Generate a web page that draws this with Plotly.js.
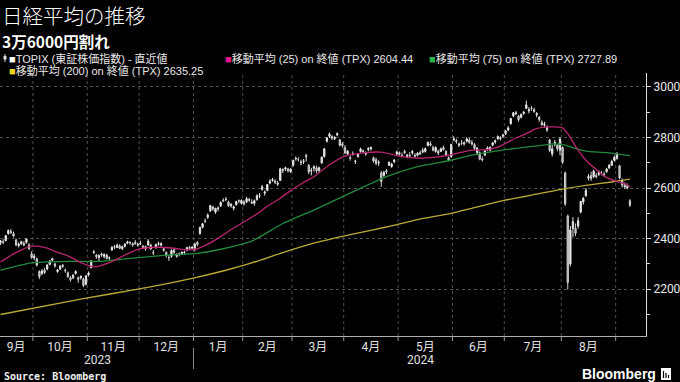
<!DOCTYPE html>
<html><head><meta charset="utf-8">
<script src="https://cdn.plot.ly/plotly-3.0.1.min.js"></script>
<style>html,body{margin:0;padding:0;background:#000;}#chart{width:680px;height:382px;}</style>
</head><body><div id="chart"></div>
<script>
// ---------- data ----------
const dates = [
'2023-09-12','2023-09-13','2023-09-14','2023-09-15','2023-09-19','2023-09-20','2023-09-21','2023-09-22','2023-09-25','2023-09-26','2023-09-27','2023-09-28','2023-09-29',
'2023-10-02','2023-10-03','2023-10-04','2023-10-05','2023-10-06','2023-10-10','2023-10-11','2023-10-12','2023-10-13','2023-10-16','2023-10-17','2023-10-18','2023-10-19','2023-10-20','2023-10-23','2023-10-24','2023-10-25','2023-10-26','2023-10-27','2023-10-30','2023-10-31',
'2023-11-01','2023-11-02','2023-11-06','2023-11-07','2023-11-08','2023-11-09','2023-11-10','2023-11-13','2023-11-14','2023-11-15','2023-11-16','2023-11-17','2023-11-20','2023-11-21','2023-11-22','2023-11-24','2023-11-27','2023-11-28','2023-11-29','2023-11-30',
'2023-12-01','2023-12-04','2023-12-05','2023-12-06','2023-12-07','2023-12-08','2023-12-11','2023-12-12','2023-12-13','2023-12-14','2023-12-15','2023-12-18','2023-12-19','2023-12-20','2023-12-21','2023-12-22','2023-12-25','2023-12-26','2023-12-27','2023-12-28','2023-12-29',
'2024-01-04','2024-01-05','2024-01-09','2024-01-10','2024-01-11','2024-01-12','2024-01-15','2024-01-16','2024-01-17','2024-01-18','2024-01-19','2024-01-22','2024-01-23','2024-01-24','2024-01-25','2024-01-26','2024-01-29','2024-01-30','2024-01-31',
'2024-02-01','2024-02-02','2024-02-05','2024-02-06','2024-02-07','2024-02-08','2024-02-09','2024-02-13','2024-02-14','2024-02-15','2024-02-16','2024-02-19','2024-02-20','2024-02-21','2024-02-22','2024-02-26','2024-02-27','2024-02-28','2024-02-29',
'2024-03-01','2024-03-04','2024-03-05','2024-03-06','2024-03-07','2024-03-08','2024-03-11','2024-03-12','2024-03-13','2024-03-14','2024-03-15','2024-03-18','2024-03-19','2024-03-21','2024-03-22','2024-03-25','2024-03-26','2024-03-27','2024-03-28','2024-03-29',
'2024-04-01','2024-04-02','2024-04-03','2024-04-04','2024-04-05','2024-04-08','2024-04-09','2024-04-10','2024-04-11','2024-04-12','2024-04-15','2024-04-16','2024-04-17','2024-04-18','2024-04-19','2024-04-22','2024-04-23','2024-04-24','2024-04-25','2024-04-26','2024-04-30',
'2024-05-01','2024-05-02','2024-05-07','2024-05-08','2024-05-09','2024-05-10','2024-05-13','2024-05-14','2024-05-15','2024-05-16','2024-05-17','2024-05-20','2024-05-21','2024-05-22','2024-05-23','2024-05-24','2024-05-27','2024-05-28','2024-05-29','2024-05-30','2024-05-31',
'2024-06-03','2024-06-04','2024-06-05','2024-06-06','2024-06-07','2024-06-10','2024-06-11','2024-06-12','2024-06-13','2024-06-14','2024-06-17','2024-06-18','2024-06-19','2024-06-20','2024-06-21','2024-06-24','2024-06-25','2024-06-26','2024-06-27','2024-06-28',
'2024-07-01','2024-07-02','2024-07-03','2024-07-04','2024-07-05','2024-07-08','2024-07-09','2024-07-10','2024-07-11','2024-07-12','2024-07-16','2024-07-17','2024-07-18','2024-07-19','2024-07-22','2024-07-23','2024-07-24','2024-07-25','2024-07-26','2024-07-29','2024-07-30','2024-07-31',
'2024-08-01','2024-08-02','2024-08-05','2024-08-06','2024-08-07','2024-08-08','2024-08-09','2024-08-13','2024-08-14','2024-08-15','2024-08-16','2024-08-19','2024-08-20','2024-08-21','2024-08-22','2024-08-23','2024-08-26','2024-08-27','2024-08-28','2024-08-29','2024-08-30',
'2024-09-02','2024-09-03','2024-09-04','2024-09-05','2024-09-06','2024-09-09'
];
const openPx = [
2385,2388,2392,2420,2428,2420,2395,2372,2380,2382,2385,2375,2340,
2325,2320,2270,2262,2275,2280,2298,2315,2300,2270,2280,2295,2275,2265,2245,2245,2262,2245,2245,2240,2220,
2258,2285,2345,2335,2325,2335,2330,2335,2325,2355,2368,2365,2372,2360,2370,2382,2385,2380,2385,2378,
2380,2370,2360,2375,2375,2345,2365,2378,2375,2360,2345,2325,2330,2355,2330,2340,2340,2345,2355,2365,2362,
2360,2385,2420,2445,2470,2485,2510,2525,2505,2522,2530,2552,2555,2545,2530,2520,2535,2550,2540,
2545,2545,2555,2545,2540,2555,2570,2595,2580,2590,2620,2630,2628,2620,2630,2670,2675,2675,2665,
2690,2715,2712,2700,2705,2725,2690,2668,2678,2680,2670,2700,2725,2785,2805,2805,2795,2810,2790,2775,
2760,2735,2720,2735,2705,2725,2745,2745,2735,2752,2755,2720,2712,2700,2660,2650,2668,2690,2685,2705,2735,
2740,2730,2745,2725,2730,2740,2730,2730,2740,2750,2745,2768,2775,2760,2745,2745,2745,2760,2745,2720,2725,
2790,2788,2770,2778,2780,2785,2790,2780,2772,2740,2740,2715,2730,2752,2750,2770,2782,2795,2800,2805,
2815,2830,2855,2885,2895,2885,2880,2895,2915,2905,2915,2910,2890,2880,2860,2850,2840,2790,2735,2775,2770,2750,
2760,2660,2490,2300,2440,2440,2450,2505,2545,2570,2640,2650,2645,2650,2655,2660,2655,2665,2680,2690,2710,
2718,2688,2630,2612,2608,2550
];
const highPx = [
2395,2398,2415,2436,2438,2428,2400,2385,2392,2390,2402,2382,2350,
2340,2325,2275,2280,2285,2300,2315,2325,2305,2280,2295,2300,2282,2270,2252,2260,2275,2250,2255,2245,2255,
2270,2315,2355,2340,2338,2345,2342,2340,2330,2370,2375,2380,2378,2372,2382,2392,2390,2385,2395,2385,
2392,2375,2372,2398,2380,2355,2380,2388,2385,2365,2350,2335,2358,2362,2342,2345,2350,2352,2368,2372,2370,
2385,2390,2448,2462,2480,2500,2532,2530,2522,2528,2548,2560,2565,2550,2540,2530,2550,2555,2555,
2552,2565,2562,2556,2555,2575,2580,2612,2590,2615,2635,2640,2635,2628,2680,2678,2685,2680,2678,
2712,2725,2722,2712,2715,2735,2695,2680,2690,2688,2685,2725,2758,2802,2820,2808,2805,2820,2795,2782,
2770,2750,2728,2745,2712,2738,2760,2752,2745,2762,2765,2725,2720,2710,2668,2668,2675,2705,2700,2715,2748,
2745,2740,2752,2735,2742,2750,2738,2742,2748,2760,2760,2785,2785,2768,2765,2752,2760,2768,2750,2725,2775,
2805,2795,2780,2790,2785,2800,2798,2790,2778,2762,2745,2725,2752,2765,2765,2782,2792,2808,2805,2815,
2830,2845,2878,2900,2905,2890,2895,2905,2946,2920,2925,2918,2900,2885,2868,2862,2848,2795,2770,2790,2775,2800,
2765,2665,2495,2450,2485,2460,2485,2550,2565,2600,2655,2665,2672,2660,2670,2668,2665,2680,2695,2712,2728,
2742,2692,2638,2622,2618,2556
];
const lowPx = [
2375,2378,2390,2415,2418,2405,2370,2365,2375,2370,2380,2355,2320,
2315,2290,2240,2255,2260,2275,2295,2308,2285,2265,2275,2285,2265,2245,2230,2240,2258,2225,2238,2208,2215,
2250,2283,2340,2320,2310,2328,2322,2318,2315,2352,2358,2362,2358,2355,2365,2378,2375,2368,2376,2368,
2375,2360,2352,2372,2355,2335,2360,2372,2368,2348,2325,2312,2325,2340,2325,2330,2336,2338,2350,2355,2355,
2350,2370,2415,2440,2462,2478,2505,2510,2498,2508,2525,2545,2548,2525,2522,2512,2530,2540,2535,
2530,2540,2545,2538,2530,2550,2560,2590,2570,2588,2615,2625,2615,2608,2628,2660,2668,2662,2660,
2685,2708,2705,2690,2695,2705,2655,2650,2665,2660,2660,2695,2720,2780,2798,2790,2790,2805,2765,2760,
2735,2730,2708,2728,2695,2720,2740,2738,2728,2745,2748,2700,2690,2688,2605,2645,2655,2688,2680,2698,2730,
2728,2722,2735,2718,2722,2732,2720,2725,2730,2738,2740,2765,2765,2745,2740,2730,2742,2748,2725,2705,2720,
2785,2775,2762,2770,2768,2780,2775,2768,2750,2730,2710,2705,2728,2748,2745,2765,2775,2790,2788,2798,
2810,2825,2850,2880,2888,2862,2875,2890,2912,2895,2905,2898,2880,2862,2845,2840,2822,2742,2725,2765,2745,2730,
2695,2530,2199,2290,2405,2410,2440,2500,2535,2565,2630,2628,2640,2638,2648,2650,2645,2660,2675,2688,2705,
2712,2635,2602,2596,2595,2525
];
const closePx = [
2390,2385,2412,2432,2425,2410,2375,2378,2388,2374,2398,2360,2325,
2330,2295,2250,2272,2266,2295,2311,2320,2292,2276,2291,2290,2273,2250,2238,2255,2270,2240,2250,2215,2253,
2264,2312,2347,2329,2333,2338,2337,2322,2322,2366,2366,2374,2362,2368,2378,2387,2384,2375,2380,2374,
2381,2365,2368,2390,2359,2343,2377,2380,2380,2354,2334,2325,2353,2345,2337,2337,2346,2346,2365,2362,2366,
2378,2377,2444,2459,2469,2493,2531,2517,2520,2518,2543,2549,2555,2530,2536,2526,2546,2549,2551,
2537,2558,2552,2540,2550,2570,2570,2605,2585,2614,2627,2633,2622,2615,2676,2672,2680,2668,2675,
2709,2717,2712,2702,2707,2727,2664,2670,2684,2668,2680,2722,2755,2798,2813,2797,2800,2815,2769,2768,
2739,2746,2717,2734,2707,2733,2754,2746,2739,2756,2760,2707,2697,2702,2626,2662,2664,2702,2695,2710,2743,
2735,2728,2740,2730,2728,2745,2726,2738,2735,2742,2756,2780,2770,2750,2760,2738,2755,2752,2730,2710,2772,
2795,2784,2773,2777,2774,2795,2781,2774,2757,2758,2714,2712,2747,2759,2761,2779,2787,2804,2795,2809,
2826,2838,2875,2898,2897,2870,2891,2900,2929,2910,2914,2902,2895,2871,2851,2853,2829,2749,2755,2780,2756,2794,
2702,2537,2227,2434,2467,2421,2471,2547,2559,2591,2645,2637,2667,2645,2662,2660,2650,2675,2690,2705,2722,
2735,2640,2612,2604,2600,2532
];

const ma25Dates = ['2023-09-12','2023-09-21','2023-09-29','2023-10-06','2023-10-13','2023-10-20','2023-10-27','2023-11-06','2023-11-14','2023-11-22','2023-11-30','2023-12-11','2023-12-20','2023-12-27','2024-01-05','2024-01-12','2024-01-19','2024-01-25','2024-01-31','2024-02-08','2024-02-15','2024-02-22','2024-02-29','2024-03-07','2024-03-13','2024-03-22','2024-04-01','2024-04-11','2024-04-19','2024-05-01','2024-05-14','2024-05-23','2024-05-31','2024-06-12','2024-06-20','2024-06-26','2024-07-05','2024-07-12','2024-07-17','2024-07-24','2024-08-01','2024-08-05','2024-08-08','2024-08-15','2024-08-21','2024-08-27','2024-09-02','2024-09-06','2024-09-09'];
const ma25Values = [2308,2345,2370,2365,2350,2332,2305,2288,2305,2335,2358,2366,2362,2356,2360,2378,2408,2436,2460,2498,2528,2560,2590,2622,2645,2692,2726,2740,2742,2726,2718,2722,2732,2750,2752,2762,2798,2820,2832,2842,2838,2815,2765,2710,2673,2641,2626,2614,2604.44];

const ma75Dates = ['2023-09-12','2023-09-29','2023-10-19','2023-11-08','2023-11-27','2023-12-14','2024-01-05','2024-01-22','2024-02-06','2024-02-26','2024-03-14','2024-04-04','2024-04-23','2024-05-14','2024-05-31','2024-06-12','2024-07-01','2024-07-19','2024-07-29','2024-08-02','2024-08-08','2024-08-15','2024-08-27','2024-09-09'];
const ma75Values = [2275,2304,2310,2310,2322,2334,2342,2360,2390,2460,2518,2585,2645,2685,2710,2730,2752,2768,2775,2770,2756,2746,2740,2727.89];

const ma200Dates = ['2023-09-12','2023-10-30','2023-11-30','2023-12-29','2024-01-23','2024-02-06','2024-02-26','2024-03-14','2024-04-04','2024-04-23','2024-05-14','2024-05-31','2024-06-12','2024-06-28','2024-07-19','2024-08-02','2024-08-15','2024-08-29','2024-09-09'];
const ma200Values = [2100,2163,2200,2243,2275,2304,2345,2385,2418,2446,2475,2500,2520,2550,2578,2598,2611,2624,2635.25];

const holidays = ['2023-09-18','2023-10-09','2023-11-03','2023-11-23','2024-01-01','2024-01-02','2024-01-03','2024-01-08','2024-02-12','2024-02-23','2024-03-20','2024-04-29','2024-05-03','2024-05-06','2024-07-15','2024-08-12','2024-09-16'];

const labelMonths = ['2023-09','2023-10','2023-11','2023-12','2024-01','2024-02','2024-03','2024-04','2024-05','2024-06','2024-07','2024-08'];
const monthLabels = ['9月','10月','11月','12月','1月','2月','3月','4月','5月','6月','7月','8月'];
const yearLabels = ['2023','2024'];

const nameTopix = 'TOPIX (東証株価指数) - 直近値';
const name25 = '移動平均 (25) on 終値 (TPX) 2604.44';
const name75 = '移動平均 (75) on 終値 (TPX) 2727.89';
const name200 = '移動平均 (200) on 終値 (TPX) 2635.25';

// ---------- helpers ----------
const W = 680, H = 382, ML = 0, MR = 34, MT = 73, MB = 46;
const PW = W - ML - MR, PH = H - MT - MB;
const px = x => (x - ML) / PW;
const py = y => (H - MB - y) / PH;
const noon = d => d + ' 12:00';

const monthMids = labelMonths.map(m => {
  const idx = dates.map((d, i) => d.startsWith(m) ? i : -1).filter(i => i >= 0);
  const n = idx.length, i0 = idx[0];
  return n % 2 ? dates[i0 + (n - 1) / 2] + ' 12:00' : dates[i0 + n / 2] + ' 00:00';
});
const monthKeys = [...new Set(dates.map(d => d.slice(0, 7)))];
const boundaries = monthKeys.slice(1).map(m => dates.find(d => d.startsWith(m)) + ' 00:00');

const C25 = '#b8256f', C75 = '#22893e', C200 = '#bcaa36';
const L25 = '#e5168b', L75 = '#2bb548', L200 = '#e8d61b';

const traces = [
  {
    type: 'candlestick', x: dates.map(noon), open: openPx, high: highPx, low: lowPx, close: closePx,
    name: nameTopix, showlegend: false, hoverinfo: 'skip', whiskerwidth: 0,
    increasing: {line: {color: '#e6e6e6', width: 1}, fillcolor: '#f2f2f2'},
    decreasing: {line: {color: '#d0d0d0', width: 1}, fillcolor: '#a6a6a6'}
  },
  {type: 'scatter', mode: 'lines', x: ma200Dates.map(noon), y: ma200Values, name: name200, showlegend: false,
   line: {color: C200, width: 1.3, shape: 'spline', smoothing: 0.6}, hoverinfo: 'skip'},
  {type: 'scatter', mode: 'lines', x: ma75Dates.map(noon), y: ma75Values, name: name75, showlegend: false,
   line: {color: C75, width: 1.3, shape: 'spline', smoothing: 0.6}, hoverinfo: 'skip'},
  {type: 'scatter', mode: 'lines', x: ma25Dates.map(noon), y: ma25Values, name: name25, showlegend: false,
   line: {color: C25, width: 1.3, shape: 'spline', smoothing: 0.6}, hoverinfo: 'skip'}
];

const shapes = [];
boundaries.forEach(b => {
  shapes.push({type: 'line', xref: 'x', yref: 'paper', x0: b, x1: b, y0: 0, y1: 1,
    line: {color: '#4f4f4f', width: 1, dash: 'dot'}, layer: 'below'});
  shapes.push({type: 'line', xref: 'x', yref: 'paper', x0: b, x1: b, y0: 0, y1: py(341),
    line: {color: '#9a9a9a', width: 1}});
});
const janBoundary = boundaries.find(b => b.startsWith('2024-01'));
shapes.push({type: 'line', xref: 'x', yref: 'paper', x0: janBoundary, x1: janBoundary, y0: py(348), y1: py(369),
  line: {color: '#8a8a8a', width: 1}});
shapes.push({type: 'line', xref: 'paper', yref: 'paper', x0: px(5), x1: px(5), y0: py(54), y1: py(62), line: {color: '#ddd', width: 1}});
shapes.push({type: 'rect', xref: 'paper', yref: 'paper', x0: px(3.5), x1: px(6.5), y0: py(56), y1: py(59.5), fillcolor: '#ddd', line: {width: 0}});
shapes.push({type: 'rect', xref: 'paper', yref: 'paper', x0: px(661), x1: px(671), y0: py(380), y1: py(368), fillcolor: '#fff', line: {width: 0}});
[663.5, 666, 668.5].forEach((bx, k) => shapes.push({type: 'line', xref: 'paper', yref: 'paper', x0: px(bx), x1: px(bx), y0: py(378), y1: py(371 + k * 2), line: {color: '#000', width: 1.2}}));

const cjk = "'Noto Sans CJK JP', 'Noto Sans', sans-serif";
const legFont = {family: "'Liberation Sans', 'Noto Sans CJK JP', sans-serif", size: 11, color: '#e8e8e8'};
const sq = c => `<span style="color:${c}">■</span>`;
const ann = (x, y, text, font, extra) => Object.assign({xref: 'paper', yref: 'paper', x: px(x), y: py(y), xanchor: 'left', yanchor: 'middle', showarrow: false, text, font}, extra || {});

const annotations = [
  ann(1, 15.5, '日経平均の推移', {family: cjk, size: 20.5, color: '#ffffff', weight: 300}, {borderpad: 0}),
  ann(1, 41, '<b>3万6000円割れ</b>', {family: cjk, size: 15.5, color: '#ffffff'}, {borderpad: 0}),
  ann(7, 58.5, sq('#ffffff') + nameTopix, legFont),
  ann(223, 58.5, sq(L25) + name25, legFont),
  ann(427, 58.5, sq(L75) + name75, legFont),
  ann(7, 71, sq(L200) + name200, legFont),
  ann(97, 360, yearLabels[0], {family: 'Roboto, sans-serif', size: 12, color: '#e0e0e0'}, {xanchor: 'center'}),
  ann(420, 360, yearLabels[1], {family: 'Roboto, sans-serif', size: 12, color: '#e0e0e0'}, {xanchor: 'center'}),
  ann(2, 376, '<b>Source: Bloomberg</b>', {family: "'DejaVu Sans Mono', monospace", size: 10, color: '#f0f0f0'}),
  ann(658, 374, '<b>Bloomberg</b>', {family: "'Liberation Sans', Arial, sans-serif", size: 14, color: '#ffffff'}, {xanchor: 'right'})
];

const layout = {
  width: W, height: H, margin: {l: ML, r: MR, t: MT, b: MB},
  paper_bgcolor: '#000', plot_bgcolor: '#000',
  font: {family: "Roboto, 'Noto Sans CJK JP', sans-serif", color: '#e0e0e0', size: 12},
  showlegend: false, dragmode: false, hovermode: false,
  xaxis: {
    type: 'date', range: ['2023-09-12 07:00', '2024-09-18 17:00'],
    rangebreaks: [{bounds: ['sat', 'mon']}, {values: holidays}],
    rangeslider: {visible: false},
    tickmode: 'array', tickvals: monthMids, ticktext: monthLabels, ticks: '',
    showgrid: false, zeroline: false, showline: true, linecolor: '#b0b0b0', linewidth: 1,
    tickfont: {family: "Roboto, 'Noto Sans CJK JP', sans-serif", size: 12, color: '#e0e0e0'},
    fixedrange: true
  },
  yaxis: {
    side: 'right', range: [2015, 3055], tick0: 2200, dtick: 200,
    ticks: 'outside', ticklen: 4, tickcolor: '#dddddd', tickwidth: 1,
    showline: true, linecolor: '#dddddd', linewidth: 1,
    showgrid: true, gridcolor: '#4f4f4f', griddash: 'dot', gridwidth: 1, zeroline: false,
    tickfont: {family: 'Roboto, sans-serif', size: 12, color: '#e8e8e8'},
    minor: {tick0: 2100, dtick: 100, ticks: 'outside', ticklen: 3, tickcolor: '#dddddd', showgrid: false},
    fixedrange: true
  },
  shapes, annotations
};

Plotly.newPlot('chart', traces, layout, {staticPlot: true, displayModeBar: false});
</script></body></html>
